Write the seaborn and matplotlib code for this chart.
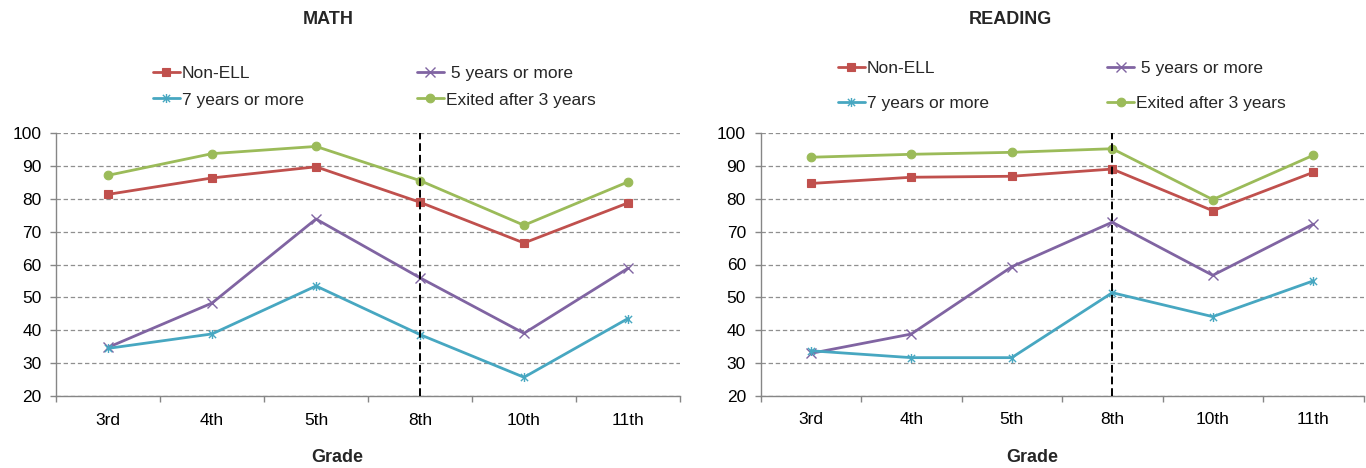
import numpy as np
import pandas as pd
import matplotlib
matplotlib.use("Agg")
import matplotlib.pyplot as plt
from matplotlib.path import Path
from matplotlib.ticker import FixedLocator
import seaborn as sns

# ---- data -------------------------------------------------------------
grades = ["3rd", "4th", "5th", "8th", "10th", "11th"]
series_names = ["Non-ELL", "5 years or more", "7 years or more", "Exited after 3 years"]

math_non_ell = [81.4, 86.4, 89.8, 79.0, 66.6, 78.8]
math_five_years = [34.8, 48.3, 73.9, 56.0, 39.1, 58.9]
math_seven_years = [34.5, 38.9, 53.5, 38.7, 25.7, 43.6]
math_exited = [87.2, 93.8, 96.0, 85.6, 72.0, 85.2]

reading_non_ell = [84.7, 86.6, 86.9, 89.1, 76.4, 88.1]
reading_five_years = [32.9, 38.8, 59.3, 72.9, 56.7, 72.3]
reading_seven_years = [33.7, 31.6, 31.6, 51.4, 44.1, 55.0]
reading_exited = [92.7, 93.6, 94.2, 95.3, 79.8, 93.3]

divider_grade = "8th"
y_ticks = [20, 30, 40, 50, 60, 70, 80, 90, 100]

# ---- styling ----------------------------------------------------------
sns.set_theme(style="white")
plt.rcParams["font.family"] = ["Liberation Sans", "DejaVu Sans"]
FS = 12.5
FS_BOLD = 13
AXIS_GREY = "#868686"

colors = {
    "Non-ELL": "#C0504D",
    "5 years or more": "#8064A2",
    "7 years or more": "#47A7C1",
    "Exited after 3 years": "#9BBB59",
}

# asterisk: an "x" crossed with a vertical stroke
star_path = Path(
    [(-1, -1), (1, 1), (-1, 1), (1, -1), (0, -1.25), (0, 1.25)],
    [Path.MOVETO, Path.LINETO, Path.MOVETO, Path.LINETO, Path.MOVETO, Path.LINETO],
)
markers = {
    "Non-ELL": ("s", 6.4),
    "5 years or more": ("x", 6.5),
    "7 years or more": (star_path, 6.5),
    "Exited after 3 years": ("o", 6.2),
}


def make_frame(values):
    rows = []
    for name, vals in zip(series_names, values):
        for g, v in zip(grades, vals):
            rows.append({"Grade": g, "Score": v, "Group": name})
    return pd.DataFrame(rows)


math_df = make_frame([math_non_ell, math_five_years, math_seven_years, math_exited])
reading_df = make_frame([reading_non_ell, reading_five_years, reading_seven_years, reading_exited])

fig = plt.figure(figsize=(13.66, 4.68), dpi=100)
ax_math = fig.add_axes([56 / 1366, 72 / 468, 624 / 1366, 262.7 / 468])
ax_read = fig.add_axes([760.5 / 1366, 72.3 / 468, 603 / 1366, 262.4 / 468])


def draw_panel(ax, df):
    for name in series_names:
        sub = df[df["Group"] == name]
        m, ms = markers[name]
        sns.lineplot(
            data=sub, x="Grade", y="Score", ax=ax, sort=False,
            color=colors[name], lw=2.0, marker=m, markersize=ms,
            markeredgecolor=colors[name], markerfacecolor=colors[name],
            markeredgewidth=1.0 if name in ("5 years or more", "7 years or more") else 0.8,
            label=name, zorder=3,
        )
    ax.set_xlim(-0.5, len(grades) - 0.5)
    ax.set_ylim(20, 100)
    ax.set_yticks(y_ticks)
    ax.set_yticklabels([str(t) for t in y_ticks])
    ax.yaxis.grid(True, linestyle=(0, (3.5, 2.2)), color="#8f8f8f", lw=0.9)
    ax.xaxis.grid(False)
    for side in ("top", "right"):
        ax.spines[side].set_visible(False)
    for side in ("left", "bottom"):
        ax.spines[side].set_color(AXIS_GREY)
        ax.spines[side].set_linewidth(1.0)
    ax.xaxis.set_minor_locator(FixedLocator(np.arange(-0.5, len(grades), 1.0)))
    ax.tick_params(axis="x", which="major", length=0, pad=12, labelsize=FS, labelcolor="black")
    ax.tick_params(axis="x", which="minor", length=4, width=1.0, color=AXIS_GREY, direction="out", bottom=True)
    ax.tick_params(axis="y", which="major", length=4.5, width=1.0, color=AXIS_GREY, direction="out",
                   left=True, pad=6, labelsize=FS, labelcolor="black")
    ax.set_xlabel("")
    ax.set_ylabel("")
    # divider at the 8th-grade column
    x_div = grades.index(divider_grade)
    ax.plot([x_div, x_div], [20, 100], color="black", lw=1.4, ls=(0, (4, 2)), zorder=4)
    if ax.get_legend() is not None:
        ax.get_legend().remove()


draw_panel(ax_math, math_df)
draw_panel(ax_read, reading_df)

order = [0, 2, 1, 3]  # column-wise fill: Non-ELL / 7 yrs, then 5 yrs / Exited


def add_legend(ax, anchor, colspace, rowspace):
    handles, labels = ax.get_legend_handles_labels()
    shown = [(" " + lab) if lab == "5 years or more" else lab for lab in labels]
    fig.legend([handles[i] for i in order], [shown[i] for i in order], ncol=2,
               loc="center left", bbox_to_anchor=anchor,
               frameon=False, fontsize=FS, handlelength=1.55, handletextpad=0.12,
               columnspacing=colspace, labelspacing=rowspace, borderpad=0, borderaxespad=0)


add_legend(ax_math, (153 / 1366, 1 - 86.5 / 468), 6.5, 0.68)
add_legend(ax_read, (838 / 1366, 1 - 86 / 468), 6.8, 1.18)

fig.text(328 / 1366, 1 - 20 / 468, "MATH", ha="center", va="center",
         fontsize=FS_BOLD, fontweight="bold")
fig.text(1010 / 1366, 1 - 20 / 468, "READING", ha="center", va="center",
         fontsize=FS_BOLD, fontweight="bold")
fig.text(337 / 1366, 1 - 458 / 468, "Grade", ha="center", va="center",
         fontsize=FS_BOLD, fontweight="bold")
fig.text(1032 / 1366, 1 - 458 / 468, "Grade", ha="center", va="center",
         fontsize=FS_BOLD, fontweight="bold")

fig.savefig("out.png", dpi=100, facecolor="white")
